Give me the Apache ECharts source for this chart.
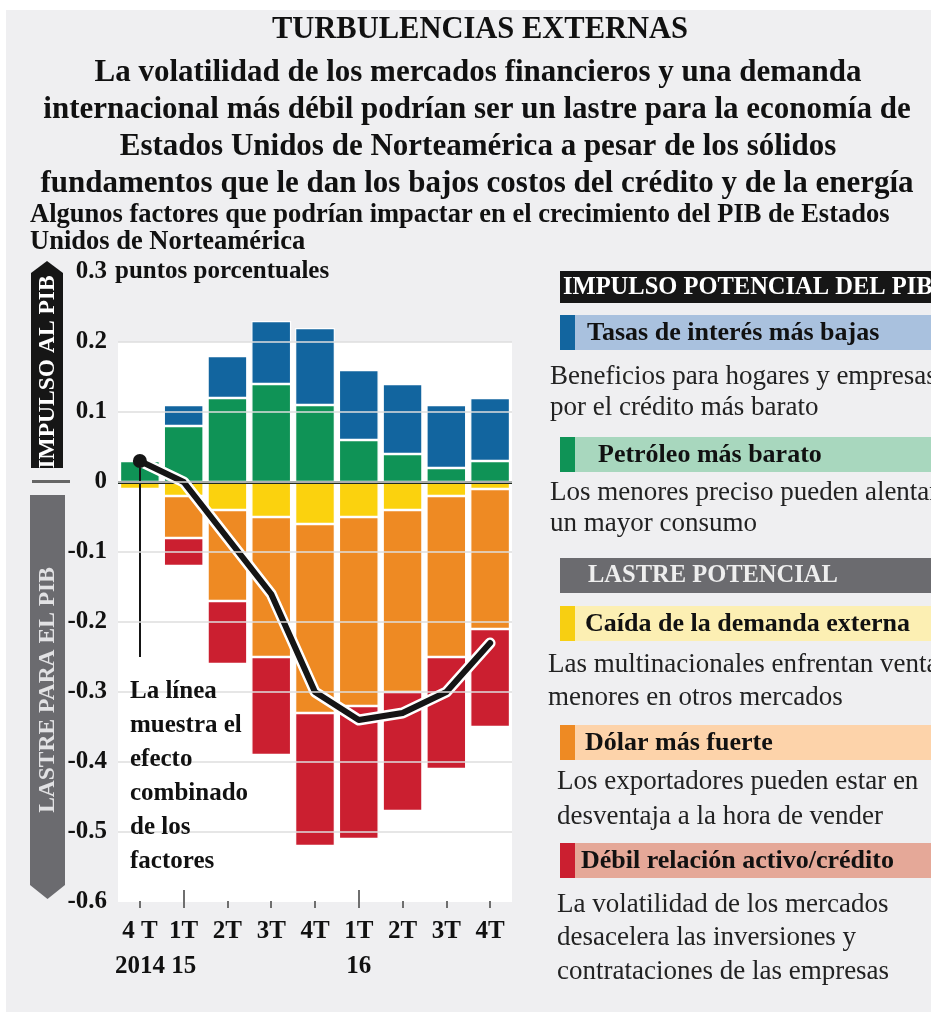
<!DOCTYPE html>
<html><head><meta charset="utf-8">
<script src="https://cdn.jsdelivr.net/npm/echarts@6/dist/echarts.min.js"></script>
<style>html,body{margin:0;padding:0;background:#fff}#c{width:931px;height:1012px}</style>
</head><body><div id="c"></div>
<script>
// ---- data ----
const categories = ['4 T\n2014', '1T\n15', '2T', '3T', '4T', '1T\n16', '2T', '3T', '4T'];
const petroleo  = [0.03, 0.08, 0.12, 0.14, 0.11, 0.06, 0.04, 0.02, 0.03];   // verde
const tasas     = [0.00, 0.03, 0.06, 0.09, 0.11, 0.10, 0.10, 0.09, 0.09];   // azul
const demanda   = [-0.01, -0.02, -0.04, -0.05, -0.06, -0.05, -0.04, -0.02, -0.01]; // amarillo
const dolar     = [0.00, -0.06, -0.13, -0.20, -0.27, -0.27, -0.26, -0.23, -0.20]; // naranja
const credito   = [0.00, -0.04, -0.09, -0.14, -0.19, -0.19, -0.17, -0.16, -0.14]; // rojo
const combinado = [0.03, 0.00, -0.08, -0.16, -0.30, -0.34, -0.33, -0.30, -0.23];
const punteroFin = -0.25;
const yTicks = [-0.6, -0.5, -0.4, -0.3, -0.2, -0.1, 0, 0.1, 0.2, 0.3];
const majorTickIdx = [1, 5];

const C = {blue:'#12659f', green:'#0f9356', yellow:'#fbd20e', orange:'#ee8a23', red:'#cb1f30'};
const SERIF = '"Liberation Serif", "Times New Roman", serif';
const f = (w, s) => (w ? 'bold ' : '') + s + 'px ' + SERIF;

function txt(text, x, y, font, opt) {
  opt = opt || {};
  return {type:'text', x:x, y:y, z:50, rotation: opt.rotation || 0,
    style:{text:text, font:font, fill: opt.fill || '#111',
      textAlign: opt.align || 'left', align: opt.align || 'left',
      textVerticalAlign: opt.va || 'middle', verticalAlign: opt.va || 'middle',
      lineHeight: opt.lh}};
}
function rect(x, y, w, h, fill) {
  return {type:'rect', z:40, shape:{x:x, y:y, width:w, height:h}, style:{fill:fill}};
}

const graphics = [
  {type:'rect', z:-10, silent:true, shape:{x:6, y:10, width:925, height:1002}, style:{fill:'#efeff1'}},
  txt('TURBULENCIAS EXTERNAS', 480, 30, f(1, 30.5), {align:'center'}),
  txt('La volatilidad de los mercados financieros y una demanda', 478, 73, f(1, 31), {align:'center'}),
  txt('internacional más débil podrían ser un lastre para la economía de', 477, 110, f(1, 31), {align:'center'}),
  txt('Estados Unidos de Norteamérica a pesar de los sólidos', 478, 147, f(1, 31), {align:'center'}),
  txt('fundamentos que le dan los bajos costos del crédito y de la energía', 477, 184, f(1, 31), {align:'center'}),
  txt('Algunos factores que podrían impactar en el crecimiento del PIB de Estados', 30, 215, f(1, 26.5), {}),
  txt('Unidos de Norteamérica', 30, 242, f(1, 26.5)),
  // left banners
  {type:'polygon', z:40, shape:{points:[[31,273],[47,261],[63,273],[63,468],[31,468]]}, style:{fill:'#161616'}},
  txt('IMPULSO AL PIB', 48, 372, f(1, 23.5), {align:'center', fill:'#ffffff', rotation:Math.PI/2}),
  rect(32, 480, 38, 3, '#666'),
  {type:'polygon', z:40, shape:{points:[[30,495],[65,495],[65,885],[47.5,899],[30,885]]}, style:{fill:'#6b6b6f'}},
  txt('LASTRE PARA EL PIB', 48, 690, f(1, 23.5), {align:'center', fill:'#e2e2e4', rotation:Math.PI/2}),
  // annotation
  txt('La línea\nmuestra el\nefecto\ncombinado\nde los\nfactores', 130, 675, f(1, 25), {va:'top', lh:34}),
  // legend panel
  rect(560, 271, 371, 32, '#161616'),
  txt('IMPULSO POTENCIAL DEL PIB', 563, 288, f(1, 24.5), {fill:'#fff'}),
  rect(560, 315, 371, 35, '#a9c1de'), rect(560, 315, 15, 35, C.blue),
  txt('Tasas de interés más bajas', 587, 333, f(1, 26)),
  txt('Beneficios para hogares y empresas', 550, 377, f(0, 27), {fill:'#222'}),
  txt('por el crédito más barato', 550, 408, f(0, 27), {fill:'#222'}),
  rect(560, 437, 371, 35, '#a8d7be'), rect(560, 437, 15, 35, C.green),
  txt('Petróleo más barato', 598, 455, f(1, 26)),
  txt('Los menores preciso pueden alentar', 550, 493, f(0, 27), {fill:'#222'}),
  txt('un mayor consumo', 550, 524, f(0, 27), {fill:'#222'}),
  rect(560, 558, 371, 35, '#6b6b6f'),
  txt('LASTRE POTENCIAL', 588, 576, f(1, 24.5), {fill:'#eeeeee'}),
  rect(560, 606, 371, 35, '#fcefb3'), rect(560, 606, 15, 35, '#f7cf12'),
  txt('Caída de la demanda externa', 585, 624, f(1, 26)),
  txt('Las multinacionales enfrentan ventas', 548, 665, f(0, 27), {fill:'#222'}),
  txt('menores en otros mercados', 548, 698, f(0, 27), {fill:'#222'}),
  rect(560, 725, 371, 35, '#fdd3aa'), rect(560, 725, 15, 35, C.orange),
  txt('Dólar más fuerte', 585, 743, f(1, 26)),
  txt('Los exportadores pueden estar en', 557, 782, f(0, 27), {fill:'#222'}),
  txt('desventaja a la hora de vender', 557, 817, f(0, 27), {fill:'#222'}),
  rect(560, 843, 371, 35, '#e5a898'), rect(560, 843, 15, 35, C.red),
  txt('Débil relación activo/crédito', 581, 861, f(1, 26)),
  txt('La volatilidad de los mercados', 557, 905, f(0, 27), {fill:'#222'}),
  txt('desacelera las inversiones y', 557, 938, f(0, 27), {fill:'#222'}),
  txt('contrataciones de las empresas', 557, 972, f(0, 27), {fill:'#222'})
];

function barSeries(name, data, color) {
  return {name:name, type:'bar', stack:'t', data:data, barCategoryGap:'9%',
    itemStyle:{color:color, borderColor:'#ffffff', borderWidth:1.2}, z:3};
}
function tickAxis(len, filter) {
  return {type:'category', data:categories, position:'bottom', offset:6,
    axisLine:{show:false}, axisLabel:{show:false},
    axisTick:{show:true, inside:true, length:len, alignWithLabel:true,
      interval:filter, lineStyle:{color:'#6f6f6f', width:2}}};
}

const gridColors = yTicks.map(function(v, i){ return (i === 0 || i === yTicks.length - 1) ? 'rgba(0,0,0,0)' : '#dedede'; });

const chart = echarts.init(document.getElementById('c'), null, {renderer:'canvas'});
chart.setOption({
  backgroundColor:'#ffffff',
  animation:false,
  grid:{left:118, right:419, top:272, bottom:110, show:true, backgroundColor:'#ffffff', borderWidth:0},
  xAxis:[{
    type:'category', data:categories, offset:6,
    axisLine:{show:false}, axisTick:{show:false},
    axisLabel:{interval:0, margin:6, fontFamily:'Liberation Serif', fontWeight:'bold', fontSize:25, color:'#111', lineHeight:35}
  },
    tickAxis(7, function(){ return true; }),
    tickAxis(18, function(i){ return majorTickIdx.indexOf(i) >= 0; })
  ],
  yAxis:{
    type:'value', min:yTicks[0], max:yTicks[yTicks.length-1], interval:0.1, z:10,
    name:'puntos porcentuales', nameLocation:'end', nameGap:0,
    nameTextStyle:{align:'left', verticalAlign:'middle', fontFamily:'Liberation Serif', fontWeight:'bold', fontSize:25, color:'#111', padding:[0,0,0,-3]},
    axisLine:{show:false}, axisTick:{show:false},
    axisLabel:{margin:11, fontFamily:'Liberation Serif', fontWeight:'bold', fontSize:25, color:'#111',
      formatter:function(v){ return String(Math.round(v*10)/10); }},
    splitLine:{show:true, lineStyle:{color:gridColors, width:1.5}}
  },
  series:[
    Object.assign(barSeries('Petróleo más barato', petroleo, C.green), {
      markArea:{silent:true, itemStyle:{color:'#efeff1'}, data:[[{yAxis:0.2},{yAxis:0.3}]]}
    }),
    barSeries('Tasas de interés más bajas', tasas, C.blue),
    barSeries('Caída de la demanda externa', demanda, C.yellow),
    barSeries('Dólar más fuerte', dolar, C.orange),
    barSeries('Débil relación activo/crédito', credito, C.red),
    {name:'contorno', type:'line', data:combinado, symbol:'none', z:8, silent:true,
      lineStyle:{color:'#ffffff', width:11, join:'round', cap:'round'},
      markLine:{silent:true, symbol:'none', label:{show:false}, z:7,
        lineStyle:{color:'#1e2b20', width:3, type:'solid'}, data:[{yAxis:0}]}},
    {name:'Efecto combinado', type:'line', z:9,
      data:combinado.map(function(v,i){ return i===0 ? {value:v, symbol:'circle', symbolSize:14} : {value:v, symbol:'none'}; }),
      showSymbol:true, itemStyle:{color:'#151515'},
      lineStyle:{color:'#151515', width:6, join:'round', cap:'round'},
      markLine:{silent:true, symbol:'none', label:{show:false},
        lineStyle:{color:'#151515', width:2, type:'solid'},
        data:[[{coord:[0, combinado[0]]}, {coord:[0, punteroFin]}]]}}
  ],
  graphic:graphics
});
</script></body></html>
